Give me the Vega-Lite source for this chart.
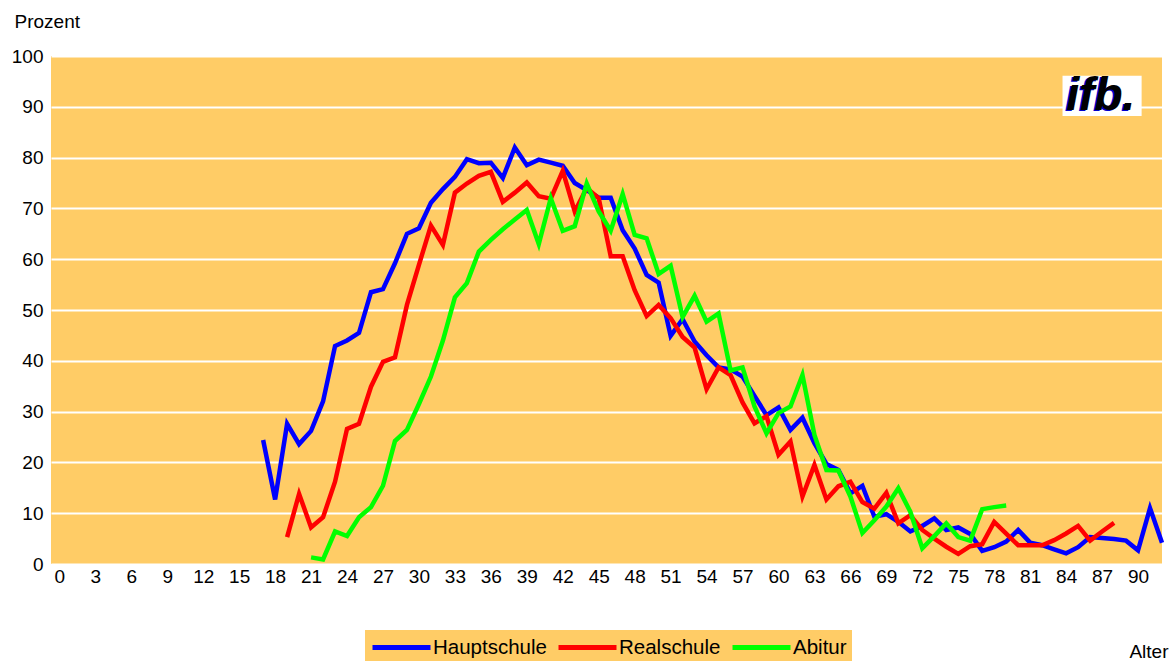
{
  "$schema": "https://vega.github.io/schema/vega-lite/v6.json",
  "width": 1111,
  "height": 508,
  "autosize": {"type": "none"},
  "padding": {"left": 51, "top": 56, "right": 13, "bottom": 97},
  "background": "white",
  "config": {
    "font": "Liberation Sans",
    "view": {"fill": "#FFCC66", "stroke": null}
  },
  "datasets": {
    "rows": [
      {"Alter":17,"Prozent":24.4,"Gruppe":"Hauptschule"},{"Alter":18,"Prozent":12.7,"Gruppe":"Hauptschule"},{"Alter":19,"Prozent":27.6,"Gruppe":"Hauptschule"},{"Alter":20,"Prozent":23.6,"Gruppe":"Hauptschule"},{"Alter":21,"Prozent":26.2,"Gruppe":"Hauptschule"},{"Alter":22,"Prozent":32,"Gruppe":"Hauptschule"},{"Alter":23,"Prozent":42.9,"Gruppe":"Hauptschule"},{"Alter":24,"Prozent":44,"Gruppe":"Hauptschule"},{"Alter":25,"Prozent":45.5,"Gruppe":"Hauptschule"},{"Alter":26,"Prozent":53.5,"Gruppe":"Hauptschule"},{"Alter":27,"Prozent":54.1,"Gruppe":"Hauptschule"},{"Alter":28,"Prozent":59.2,"Gruppe":"Hauptschule"},{"Alter":29,"Prozent":65,"Gruppe":"Hauptschule"},{"Alter":30,"Prozent":66.1,"Gruppe":"Hauptschule"},{"Alter":31,"Prozent":71.1,"Gruppe":"Hauptschule"},{"Alter":32,"Prozent":73.8,"Gruppe":"Hauptschule"},{"Alter":33,"Prozent":76.2,"Gruppe":"Hauptschule"},{"Alter":34,"Prozent":79.7,"Gruppe":"Hauptschule"},{"Alter":35,"Prozent":78.9,"Gruppe":"Hauptschule"},{"Alter":36,"Prozent":79,"Gruppe":"Hauptschule"},{"Alter":37,"Prozent":76,"Gruppe":"Hauptschule"},{"Alter":38,"Prozent":82,"Gruppe":"Hauptschule"},{"Alter":39,"Prozent":78.5,"Gruppe":"Hauptschule"},{"Alter":40,"Prozent":79.6,"Gruppe":"Hauptschule"},{"Alter":41,"Prozent":79,"Gruppe":"Hauptschule"},{"Alter":42,"Prozent":78.4,"Gruppe":"Hauptschule"},{"Alter":43,"Prozent":75,"Gruppe":"Hauptschule"},{"Alter":44,"Prozent":73.6,"Gruppe":"Hauptschule"},{"Alter":45,"Prozent":72.1,"Gruppe":"Hauptschule"},{"Alter":46,"Prozent":72.1,"Gruppe":"Hauptschule"},{"Alter":47,"Prozent":65.7,"Gruppe":"Hauptschule"},{"Alter":48,"Prozent":62.1,"Gruppe":"Hauptschule"},{"Alter":49,"Prozent":56.9,"Gruppe":"Hauptschule"},{"Alter":50,"Prozent":55.4,"Gruppe":"Hauptschule"},{"Alter":51,"Prozent":44.9,"Gruppe":"Hauptschule"},{"Alter":52,"Prozent":48.2,"Gruppe":"Hauptschule"},{"Alter":53,"Prozent":43.8,"Gruppe":"Hauptschule"},{"Alter":54,"Prozent":41.1,"Gruppe":"Hauptschule"},{"Alter":55,"Prozent":38.7,"Gruppe":"Hauptschule"},{"Alter":56,"Prozent":38.3,"Gruppe":"Hauptschule"},{"Alter":57,"Prozent":36.9,"Gruppe":"Hauptschule"},{"Alter":58,"Prozent":33.1,"Gruppe":"Hauptschule"},{"Alter":59,"Prozent":29.3,"Gruppe":"Hauptschule"},{"Alter":60,"Prozent":30.8,"Gruppe":"Hauptschule"},{"Alter":61,"Prozent":26.4,"Gruppe":"Hauptschule"},{"Alter":62,"Prozent":28.8,"Gruppe":"Hauptschule"},{"Alter":63,"Prozent":23.8,"Gruppe":"Hauptschule"},{"Alter":64,"Prozent":19.7,"Gruppe":"Hauptschule"},{"Alter":65,"Prozent":18.5,"Gruppe":"Hauptschule"},{"Alter":66,"Prozent":13.9,"Gruppe":"Hauptschule"},{"Alter":67,"Prozent":15.4,"Gruppe":"Hauptschule"},{"Alter":68,"Prozent":9.3,"Gruppe":"Hauptschule"},{"Alter":69,"Prozent":9.8,"Gruppe":"Hauptschule"},{"Alter":70,"Prozent":8.3,"Gruppe":"Hauptschule"},{"Alter":71,"Prozent":6.4,"Gruppe":"Hauptschule"},{"Alter":72,"Prozent":7.5,"Gruppe":"Hauptschule"},{"Alter":73,"Prozent":9,"Gruppe":"Hauptschule"},{"Alter":74,"Prozent":6.7,"Gruppe":"Hauptschule"},{"Alter":75,"Prozent":7.2,"Gruppe":"Hauptschule"},{"Alter":76,"Prozent":5.9,"Gruppe":"Hauptschule"},{"Alter":77,"Prozent":2.6,"Gruppe":"Hauptschule"},{"Alter":78,"Prozent":3.3,"Gruppe":"Hauptschule"},{"Alter":79,"Prozent":4.4,"Gruppe":"Hauptschule"},{"Alter":80,"Prozent":6.7,"Gruppe":"Hauptschule"},{"Alter":81,"Prozent":4.2,"Gruppe":"Hauptschule"},{"Alter":82,"Prozent":3.7,"Gruppe":"Hauptschule"},{"Alter":83,"Prozent":2.9,"Gruppe":"Hauptschule"},{"Alter":84,"Prozent":2.1,"Gruppe":"Hauptschule"},{"Alter":85,"Prozent":3.3,"Gruppe":"Hauptschule"},{"Alter":86,"Prozent":5.3,"Gruppe":"Hauptschule"},{"Alter":87,"Prozent":5.1,"Gruppe":"Hauptschule"},{"Alter":88,"Prozent":4.9,"Gruppe":"Hauptschule"},{"Alter":89,"Prozent":4.6,"Gruppe":"Hauptschule"},{"Alter":90,"Prozent":2.7,"Gruppe":"Hauptschule"},{"Alter":91,"Prozent":11,"Gruppe":"Hauptschule"},{"Alter":92,"Prozent":4.2,"Gruppe":"Hauptschule"},
      {"Alter":19,"Prozent":5.3,"Gruppe":"Realschule"},{"Alter":20,"Prozent":13.8,"Gruppe":"Realschule"},{"Alter":21,"Prozent":7.2,"Gruppe":"Realschule"},{"Alter":22,"Prozent":9.2,"Gruppe":"Realschule"},{"Alter":23,"Prozent":16.2,"Gruppe":"Realschule"},{"Alter":24,"Prozent":26.6,"Gruppe":"Realschule"},{"Alter":25,"Prozent":27.6,"Gruppe":"Realschule"},{"Alter":26,"Prozent":34.9,"Gruppe":"Realschule"},{"Alter":27,"Prozent":39.8,"Gruppe":"Realschule"},{"Alter":28,"Prozent":40.7,"Gruppe":"Realschule"},{"Alter":29,"Prozent":51,"Gruppe":"Realschule"},{"Alter":30,"Prozent":58.9,"Gruppe":"Realschule"},{"Alter":31,"Prozent":66.6,"Gruppe":"Realschule"},{"Alter":32,"Prozent":62.8,"Gruppe":"Realschule"},{"Alter":33,"Prozent":73.1,"Gruppe":"Realschule"},{"Alter":34,"Prozent":74.9,"Gruppe":"Realschule"},{"Alter":35,"Prozent":76.4,"Gruppe":"Realschule"},{"Alter":36,"Prozent":77.2,"Gruppe":"Realschule"},{"Alter":37,"Prozent":71.3,"Gruppe":"Realschule"},{"Alter":38,"Prozent":73.1,"Gruppe":"Realschule"},{"Alter":39,"Prozent":75.1,"Gruppe":"Realschule"},{"Alter":40,"Prozent":72.4,"Gruppe":"Realschule"},{"Alter":41,"Prozent":71.9,"Gruppe":"Realschule"},{"Alter":42,"Prozent":77.4,"Gruppe":"Realschule"},{"Alter":43,"Prozent":69.4,"Gruppe":"Realschule"},{"Alter":44,"Prozent":74,"Gruppe":"Realschule"},{"Alter":45,"Prozent":72,"Gruppe":"Realschule"},{"Alter":46,"Prozent":60.6,"Gruppe":"Realschule"},{"Alter":47,"Prozent":60.6,"Gruppe":"Realschule"},{"Alter":48,"Prozent":53.9,"Gruppe":"Realschule"},{"Alter":49,"Prozent":48.8,"Gruppe":"Realschule"},{"Alter":50,"Prozent":51,"Gruppe":"Realschule"},{"Alter":51,"Prozent":48.4,"Gruppe":"Realschule"},{"Alter":52,"Prozent":44.7,"Gruppe":"Realschule"},{"Alter":53,"Prozent":42.6,"Gruppe":"Realschule"},{"Alter":54,"Prozent":34.4,"Gruppe":"Realschule"},{"Alter":55,"Prozent":38.7,"Gruppe":"Realschule"},{"Alter":56,"Prozent":37.2,"Gruppe":"Realschule"},{"Alter":57,"Prozent":31.8,"Gruppe":"Realschule"},{"Alter":58,"Prozent":27.7,"Gruppe":"Realschule"},{"Alter":59,"Prozent":29.1,"Gruppe":"Realschule"},{"Alter":60,"Prozent":21.5,"Gruppe":"Realschule"},{"Alter":61,"Prozent":24.1,"Gruppe":"Realschule"},{"Alter":62,"Prozent":13.3,"Gruppe":"Realschule"},{"Alter":63,"Prozent":19.5,"Gruppe":"Realschule"},{"Alter":64,"Prozent":12.7,"Gruppe":"Realschule"},{"Alter":65,"Prozent":15.3,"Gruppe":"Realschule"},{"Alter":66,"Prozent":16.2,"Gruppe":"Realschule"},{"Alter":67,"Prozent":12.2,"Gruppe":"Realschule"},{"Alter":68,"Prozent":10.9,"Gruppe":"Realschule"},{"Alter":69,"Prozent":14,"Gruppe":"Realschule"},{"Alter":70,"Prozent":8,"Gruppe":"Realschule"},{"Alter":71,"Prozent":9.6,"Gruppe":"Realschule"},{"Alter":72,"Prozent":6.7,"Gruppe":"Realschule"},{"Alter":73,"Prozent":5,"Gruppe":"Realschule"},{"Alter":74,"Prozent":3.4,"Gruppe":"Realschule"},{"Alter":75,"Prozent":2,"Gruppe":"Realschule"},{"Alter":76,"Prozent":3.5,"Gruppe":"Realschule"},{"Alter":77,"Prozent":3.9,"Gruppe":"Realschule"},{"Alter":78,"Prozent":8.3,"Gruppe":"Realschule"},{"Alter":79,"Prozent":6,"Gruppe":"Realschule"},{"Alter":80,"Prozent":3.7,"Gruppe":"Realschule"},{"Alter":81,"Prozent":3.7,"Gruppe":"Realschule"},{"Alter":82,"Prozent":3.7,"Gruppe":"Realschule"},{"Alter":83,"Prozent":4.7,"Gruppe":"Realschule"},{"Alter":84,"Prozent":6,"Gruppe":"Realschule"},{"Alter":85,"Prozent":7.5,"Gruppe":"Realschule"},{"Alter":86,"Prozent":4.6,"Gruppe":"Realschule"},{"Alter":87,"Prozent":6.4,"Gruppe":"Realschule"},{"Alter":88,"Prozent":8.1,"Gruppe":"Realschule"},
      {"Alter":21,"Prozent":1.3,"Gruppe":"Abitur"},{"Alter":22,"Prozent":0.9,"Gruppe":"Abitur"},{"Alter":23,"Prozent":6.4,"Gruppe":"Abitur"},{"Alter":24,"Prozent":5.5,"Gruppe":"Abitur"},{"Alter":25,"Prozent":9.2,"Gruppe":"Abitur"},{"Alter":26,"Prozent":11.2,"Gruppe":"Abitur"},{"Alter":27,"Prozent":15.4,"Gruppe":"Abitur"},{"Alter":28,"Prozent":24.2,"Gruppe":"Abitur"},{"Alter":29,"Prozent":26.4,"Gruppe":"Abitur"},{"Alter":30,"Prozent":31.5,"Gruppe":"Abitur"},{"Alter":31,"Prozent":36.9,"Gruppe":"Abitur"},{"Alter":32,"Prozent":44,"Gruppe":"Abitur"},{"Alter":33,"Prozent":52.5,"Gruppe":"Abitur"},{"Alter":34,"Prozent":55.3,"Gruppe":"Abitur"},{"Alter":35,"Prozent":61.5,"Gruppe":"Abitur"},{"Alter":36,"Prozent":63.8,"Gruppe":"Abitur"},{"Alter":37,"Prozent":65.9,"Gruppe":"Abitur"},{"Alter":38,"Prozent":67.8,"Gruppe":"Abitur"},{"Alter":39,"Prozent":69.7,"Gruppe":"Abitur"},{"Alter":40,"Prozent":63,"Gruppe":"Abitur"},{"Alter":41,"Prozent":72,"Gruppe":"Abitur"},{"Alter":42,"Prozent":65.6,"Gruppe":"Abitur"},{"Alter":43,"Prozent":66.5,"Gruppe":"Abitur"},{"Alter":44,"Prozent":74.9,"Gruppe":"Abitur"},{"Alter":45,"Prozent":69.4,"Gruppe":"Abitur"},{"Alter":46,"Prozent":65.6,"Gruppe":"Abitur"},{"Alter":47,"Prozent":72.8,"Gruppe":"Abitur"},{"Alter":48,"Prozent":64.8,"Gruppe":"Abitur"},{"Alter":49,"Prozent":64.1,"Gruppe":"Abitur"},{"Alter":50,"Prozent":57.1,"Gruppe":"Abitur"},{"Alter":51,"Prozent":58.7,"Gruppe":"Abitur"},{"Alter":52,"Prozent":48.6,"Gruppe":"Abitur"},{"Alter":53,"Prozent":52.8,"Gruppe":"Abitur"},{"Alter":54,"Prozent":47.7,"Gruppe":"Abitur"},{"Alter":55,"Prozent":49.3,"Gruppe":"Abitur"},{"Alter":56,"Prozent":38.1,"Gruppe":"Abitur"},{"Alter":57,"Prozent":38.7,"Gruppe":"Abitur"},{"Alter":58,"Prozent":31,"Gruppe":"Abitur"},{"Alter":59,"Prozent":25.7,"Gruppe":"Abitur"},{"Alter":60,"Prozent":29.7,"Gruppe":"Abitur"},{"Alter":61,"Prozent":31,"Gruppe":"Abitur"},{"Alter":62,"Prozent":37.2,"Gruppe":"Abitur"},{"Alter":63,"Prozent":25.4,"Gruppe":"Abitur"},{"Alter":64,"Prozent":18.5,"Gruppe":"Abitur"},{"Alter":65,"Prozent":18.4,"Gruppe":"Abitur"},{"Alter":66,"Prozent":13.3,"Gruppe":"Abitur"},{"Alter":67,"Prozent":6.1,"Gruppe":"Abitur"},{"Alter":68,"Prozent":8.6,"Gruppe":"Abitur"},{"Alter":69,"Prozent":11.3,"Gruppe":"Abitur"},{"Alter":70,"Prozent":14.9,"Gruppe":"Abitur"},{"Alter":71,"Prozent":10.3,"Gruppe":"Abitur"},{"Alter":72,"Prozent":3.1,"Gruppe":"Abitur"},{"Alter":73,"Prozent":5.5,"Gruppe":"Abitur"},{"Alter":74,"Prozent":8,"Gruppe":"Abitur"},{"Alter":75,"Prozent":5.3,"Gruppe":"Abitur"},{"Alter":76,"Prozent":4.6,"Gruppe":"Abitur"},{"Alter":77,"Prozent":10.8,"Gruppe":"Abitur"},{"Alter":78,"Prozent":11.2,"Gruppe":"Abitur"},{"Alter":79,"Prozent":11.5,"Gruppe":"Abitur"}
    ]
  },
  "layer": [
    {
      "data": {"name": "rows"},
      "mark": {"type": "line", "strokeWidth": 4.5, "strokeJoin": "miter", "strokeCap": "butt"},
      "encoding": {
        "x": {
          "field": "Alter", "type": "quantitative",
          "scale": {"domain": [-0.7, 92], "nice": false, "zero": false},
          "axis": {
            "values": [0,3,6,9,12,15,18,21,24,27,30,33,36,39,42,45,48,51,54,57,60,63,66,69,72,75,78,81,84,87,90],
            "tickCount": 100,
            "grid": false, "domain": false, "ticks": false,
            "labelFontSize": 19, "labelColor": "black", "labelPadding": 3, "labelFlush": false, "labelOverlap": false, "labelSeparation": 0,
            "title": "Alter", "titleFontSize": 19, "titleFontWeight": "normal", "titleColor": "black",
            "titleAnchor": null, "titleAlign": "right", "titleBaseline": "alphabetic", "titleX": 1117, "titleY": 93
          }
        },
        "y": {
          "field": "Prozent", "type": "quantitative",
          "scale": {"domain": [0, 100], "nice": false},
          "axis": {
            "values": [0,10,20,30,40,50,60,70,80,90,100],
            "tickCount": 20,
            "grid": true, "gridColor": "white", "gridWidth": 2, "gridOpacity": 1,
            "domain": false, "ticks": false,
            "labelFontSize": 19, "labelColor": "black", "labelPadding": 8,
            "title": "Prozent", "titleFontSize": 19, "titleFontWeight": "normal", "titleColor": "black",
            "titleAngle": 0, "titleAnchor": null, "titleAlign": "left", "titleBaseline": "alphabetic", "titleX": -37, "titleY": -29
          }
        },
        "color": {
          "field": "Gruppe", "type": "nominal",
          "scale": {"domain": ["Hauptschule", "Realschule", "Abitur"], "range": ["#0000FF", "#FF0000", "#00FF00"]},
          "legend": {
            "title": null, "orient": "none", "direction": "horizontal",
            "legendX": 314, "legendY": 574,
            "fillColor": "#FFCC66", "padding": 5,
            "symbolType": "M-1,0H4.8", "symbolSize": 400, "symbolStrokeWidth": 5,
            "labelFontSize": 20.5, "labelColor": "black", "labelOffset": 38, "columnPadding": 1
          }
        }
      }
    },
    {
      "data": {"values": [{}]},
      "mark": {"type": "rect", "fill": "white"},
      "encoding": {
        "x": {"datum": 83.7, "type": "quantitative"},
        "x2": {"datum": 90.3},
        "y": {"datum": 96.1, "type": "quantitative"},
        "y2": {"datum": 88.2}
      }
    },
    {
      "data": {"values": [{}]},
      "mark": {"type": "text", "text": "ifb.", "font": "Liberation Sans", "fontSize": 46, "fontWeight": "bold", "fontStyle": "italic", "color": "#0000CC", "align": "center", "baseline": "middle", "dx": -2, "dy": 1},
      "encoding": {
        "x": {"datum": 86.9, "type": "quantitative"},
        "y": {"datum": 92.2, "type": "quantitative"}
      }
    },
    {
      "data": {"values": [{}]},
      "mark": {"type": "text", "text": "ifb.", "font": "Liberation Sans", "fontSize": 46, "fontWeight": "bold", "fontStyle": "italic", "color": "black", "align": "center", "baseline": "middle"},
      "encoding": {
        "x": {"datum": 86.9, "type": "quantitative"},
        "y": {"datum": 92.2, "type": "quantitative"}
      }
    }
  ]
}
